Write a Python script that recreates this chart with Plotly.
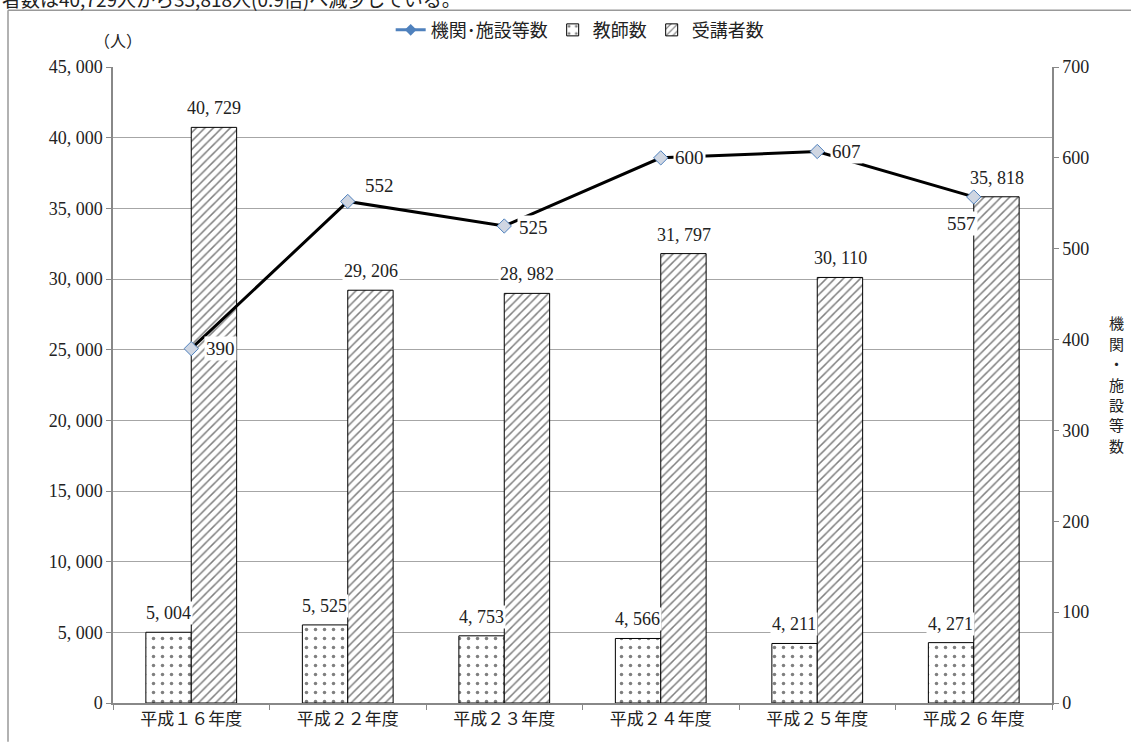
import plotly.graph_objects as go

categories = ["平成１６年度", "平成２２年度", "平成２３年度", "平成２４年度", "平成２５年度", "平成２６年度"]
facilities = [390, 552, 525, 600, 607, 557]
teachers = [5004, 5525, 4753, 4566, 4211, 4271]
students = [40729, 29206, 28982, 31797, 30110, 35818]

left_ticks = list(range(0, 45001, 5000))
right_ticks = list(range(0, 701, 100))
right_title_chars = ["機", "関", "・", "施", "設", "等", "数"]

# label offsets (px) for line labels
line_label_shift = [(29, 0), (32, 16), (29, -1), (29, 0), (29, 0), (-12, -27)]

NUM_FONT = "Liberation Serif, DejaVu Serif, serif"
JP_FONT = "Noto Sans CJK JP, sans-serif"


def fmt(v):
    return f"{v:,}".replace(",", ", ")


fig = go.Figure()

fig.add_trace(go.Bar(
    x=categories, y=teachers, name="教師数",
    marker=dict(color="white", line=dict(color="black", width=1),
                pattern=dict(shape=".", fgcolor="black", bgcolor="white", size=9, solidity=0.12)),
    yaxis="y", offsetgroup="a",
))
fig.add_trace(go.Bar(
    x=categories, y=students, name="受講者数",
    marker=dict(color="white", line=dict(color="black", width=1),
                pattern=dict(shape="/", fgcolor="black", bgcolor="white", size=6, solidity=0.25)),
    yaxis="y", offsetgroup="b",
))
fig.add_trace(go.Scatter(
    x=categories, y=facilities, name="機関･施設等数", mode="lines+markers",
    line=dict(color="black", width=3),
    marker=dict(symbol="diamond", size=11, color="#cfd6e2", line=dict(color="#4f81bd", width=1)),
    yaxis="y2", showlegend=False,
))
# legend-only entry (reference legend shows a blue line)
fig.add_trace(go.Scatter(
    x=[None], y=[None], name="機関･施設等数", mode="lines+markers",
    line=dict(color="#4f81bd", width=3),
    marker=dict(symbol="diamond", size=9, color="#4f81bd"),
    yaxis="y2", legendrank=1,
))

annotations = []
for c, v in zip(categories, teachers):
    annotations.append(dict(x=c, y=v, xref="x", yref="y", text=fmt(v), showarrow=False,
                            xshift=-23, yshift=19, bgcolor="white",
                            font=dict(family=NUM_FONT, size=18, color="#222")))
for c, v in zip(categories, students):
    annotations.append(dict(x=c, y=v, xref="x", yref="y", text=fmt(v), showarrow=False,
                            xshift=23, yshift=19, bgcolor="white",
                            font=dict(family=NUM_FONT, size=18, color="#222")))
for c, v, (dx, dy) in zip(categories, facilities, line_label_shift):
    annotations.append(dict(x=c, y=v, xref="x", yref="y2", text=str(v), showarrow=False,
                            xshift=dx, yshift=dy, bgcolor="white",
                            font=dict(family=NUM_FONT, size=19, color="#222")))

annotations.append(dict(x=(118 - 113) / 939, y=(706 - 40) / 639, xref="paper", yref="paper",
                        text="（人）", showarrow=False, xanchor="center", yanchor="middle",
                        font=dict(family=JP_FONT, size=16, color="#222")))
for i, ch in enumerate(right_title_chars):
    annotations.append(dict(x=(1116 - 113) / 939, y=(706 - (324 + 20.5 * i)) / 639,
                            xref="paper", yref="paper", text=ch, showarrow=False,
                            xanchor="center", yanchor="middle",
                            font=dict(family=JP_FONT, size=15, color="#222")))
annotations.append(dict(x=(0 - 113) / 939, y=(706 + 2) / 639, xref="paper", yref="paper",
                        text="者数は40,729人から35,818人(0.9倍)へ減少している。", showarrow=False,
                        xanchor="left", yanchor="middle",
                        font=dict(family=JP_FONT, size=19, color="#222")))

shapes = [
    dict(type="line", xref="paper", yref="paper", x0=(8 - 113) / 939, x1=(8 - 113) / 939,
         y0=(706 - 10) / 639, y1=(706 - 745) / 639, line=dict(color="#999", width=1.5)),
    dict(type="line", xref="paper", yref="paper", x0=(8 - 113) / 939, x1=(1135 - 113) / 939,
         y0=(706 - 10) / 639, y1=(706 - 10) / 639, line=dict(color="#999", width=1.5)),
]

fig.update_layout(
    width=1131, height=742,
    margin=dict(l=113, r=79, t=67, b=36),
    paper_bgcolor="white", plot_bgcolor="white",
    barmode="group", bargap=0.42, bargroupgap=0,
    showlegend=True,
    legend=dict(orientation="h", x=0.497, xanchor="center", y=(706 - 30) / 639, yanchor="middle",
                font=dict(family=JP_FONT, size=18, color="#222"), traceorder="normal",
                itemwidth=30),
    xaxis=dict(showline=True, linecolor="#888", linewidth=1.5, ticks="outside", tickson="boundaries",
               ticklen=5, tickcolor="#888", tickfont=dict(family=JP_FONT, size=17, color="#222"),
               showgrid=False),
    yaxis=dict(range=[0, 45000], tickvals=left_ticks, ticktext=[fmt(t) for t in left_ticks],
               showline=True, linecolor="#888", linewidth=1.5, ticks="outside", ticklen=5,
               tickcolor="#888", showgrid=True, gridcolor="#a6a6a6", gridwidth=1,
               tickfont=dict(family=NUM_FONT, size=18, color="#222"), zeroline=False),
    yaxis2=dict(range=[0, 700], tickvals=right_ticks, ticktext=[str(t) for t in right_ticks],
                overlaying="y", side="right", showline=True, linecolor="#888", linewidth=1.5,
                ticks="outside", ticklen=5, tickcolor="#888", showgrid=False, zeroline=False,
                tickfont=dict(family=NUM_FONT, size=18, color="#222")),
    annotations=annotations,
    shapes=shapes,
)

fig.write_html("out.html", config={"displayModeBar": False},
               post_script="document.body.style.margin='0';document.body.style.overflow='hidden';")
